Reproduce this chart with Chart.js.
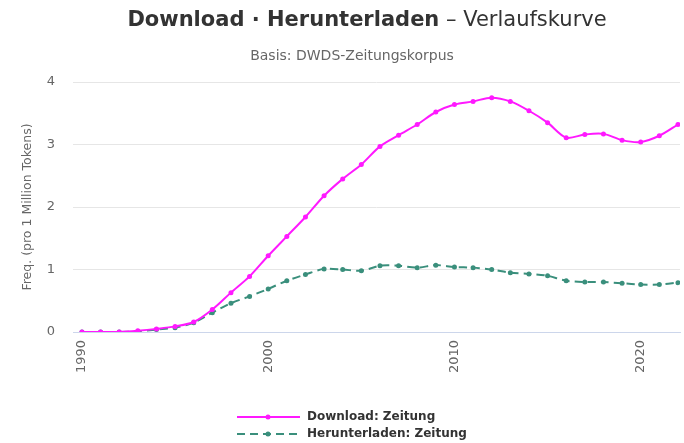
<!DOCTYPE html>
<html lang="de">
<head>
    <meta charset="UTF-8">
    <title>Download · Herunterladen – Verlaufskurve</title>
    <script src="https://cdn.jsdelivr.net/npm/chart.js@4/dist/chart.umd.min.js"></script>
    <style>
        body { margin: 0; overflow: hidden; background: #fff; font-family: "DejaVu Sans", sans-serif; }
        .wrap { position: relative; width: 684px; height: 443px; }
        .title { position: absolute; top: 7px; left: 25px; width: 684px; text-align: center;
                 font-size: 21px; color: #333; white-space: nowrap; }
        .title b { font-weight: bold; }
        .subtitle { position: absolute; top: 47px; left: 10px; width: 684px; text-align: center;
                    font-size: 14px; color: #666; white-space: nowrap; }
        canvas { position: absolute; left: 0; top: 0; }
    </style>
</head>
<body>
<div class="wrap">
    <canvas id="chart" width="684" height="443"></canvas>
    <div class="title"><b>Download · Herunterladen</b> – Verlaufskurve</div>
    <div class="subtitle">Basis: DWDS-Zeitungskorpus</div>
</div>

<script>
    // Data
    const years = [1990, 1991, 1992, 1993, 1994, 1995, 1996, 1997, 1998, 1999,
                   2000, 2001, 2002, 2003, 2004, 2005, 2006, 2007, 2008, 2009,
                   2010, 2011, 2012, 2013, 2014, 2015, 2016, 2017, 2018, 2019,
                   2020, 2021, 2022];
    const download = [0, 0, 0, 0.02, 0.05, 0.09, 0.16, 0.36, 0.63, 0.89,
                      1.22, 1.53, 1.84, 2.18, 2.45, 2.68, 2.97, 3.15, 3.32, 3.52,
                      3.64, 3.69, 3.75, 3.69, 3.54, 3.35, 3.11, 3.16, 3.17, 3.07,
                      3.04, 3.14, 3.32];
    const herunterladen = [0, 0, 0, 0.01, 0.04, 0.07, 0.15, 0.31, 0.46, 0.57,
                           0.69, 0.82, 0.92, 1.01, 1.00, 0.98, 1.06, 1.06, 1.03, 1.07,
                           1.04, 1.03, 1.00, 0.95, 0.93, 0.90, 0.82, 0.80, 0.80, 0.78,
                           0.76, 0.76, 0.79];
    const xTicks = [1990, 2000, 2010, 2020];
    const yTicks = [0, 1, 2, 3, 4];

    const magenta = '#ff19ff';
    const teal = '#3a8f7c';

    function toPoints(values) {
        return years.map((y, i) => ({ x: y, y: values[i] }));
    }

    // Highcharts-style legend: line + marker, stacked rows
    const legendPlugin = {
        id: 'stackedLegend',
        afterDraw(chart) {
            const ctx = chart.ctx;
            const rowsY = [417, 434];
            chart.data.datasets.forEach((ds, i) => {
                const y = rowsY[i];
                ctx.save();
                ctx.strokeStyle = ds.borderColor;
                ctx.lineWidth = 2;
                ctx.setLineDash(ds.borderDash || []);
                ctx.beginPath();
                ctx.moveTo(237, y);
                ctx.lineTo(300, y);
                ctx.stroke();
                ctx.setLineDash([]);
                ctx.fillStyle = ds.borderColor;
                ctx.beginPath();
                ctx.arc(268, y, 2.5, 0, Math.PI * 2);
                ctx.fill();
                ctx.fillStyle = '#333';
                ctx.font = 'bold 12px "DejaVu Sans"';
                ctx.textBaseline = 'middle';
                ctx.fillText(ds.label, 307, y);
                ctx.restore();
            });
        }
    };

    const ctx = document.getElementById('chart').getContext('2d');
    new Chart(ctx, {
        type: 'line',
        data: {
            datasets: [{
                label: 'Download: Zeitung',
                data: toPoints(download),
                borderColor: magenta,
                backgroundColor: magenta,
                borderWidth: 2,
                pointRadius: 2.5,
                pointBorderWidth: 0,
                tension: 0.3
            }, {
                label: 'Herunterladen: Zeitung',
                data: toPoints(herunterladen),
                borderColor: teal,
                backgroundColor: teal,
                borderWidth: 2,
                borderDash: [8, 5],
                pointRadius: 2.5,
                pointBorderWidth: 0,
                tension: 0.3
            }]
        },
        options: {
            responsive: false,
            animation: false,
            layout: { padding: { top: 82, left: 0, right: 0, bottom: 61 } },
            plugins: {
                legend: { display: false },
                tooltip: { enabled: false }
            },
            scales: {
                x: {
                    type: 'linear',
                    min: 1989.52,
                    max: 2022.11,
                    afterBuildTicks: (scale) => { scale.ticks = xTicks.map(v => ({ value: v })); },
                    afterFit: (scale) => { scale.height = 50; },
                    grid: { display: false, drawTicks: false },
                    border: { display: true, color: '#ccd6eb', width: 1 },
                    ticks: {
                        minRotation: 90,
                        maxRotation: 90,
                        padding: 8,
                        color: '#666',
                        font: { family: 'DejaVu Sans', size: 13 },
                        callback: (v) => String(v)
                    }
                },
                y: {
                    min: 0,
                    max: 4,
                    afterBuildTicks: (scale) => { scale.ticks = yTicks.map(v => ({ value: v })); },
                    afterFit: (scale) => { scale.width = 73; },
                    grid: { color: '#e6e6e6', drawTicks: false },
                    border: { display: false },
                    ticks: {
                        padding: 18,
                        color: '#666',
                        font: { family: 'DejaVu Sans', size: 13 }
                    },
                    title: {
                        display: true,
                        text: 'Freq. (pro 1 Million Tokens)',
                        color: '#666',
                        font: { family: 'DejaVu Sans', size: 12.5 },
                        padding: { top: 20, bottom: 0 }
                    }
                }
            }
        },
        plugins: [legendPlugin]
    });
</script>
</body>
</html>
